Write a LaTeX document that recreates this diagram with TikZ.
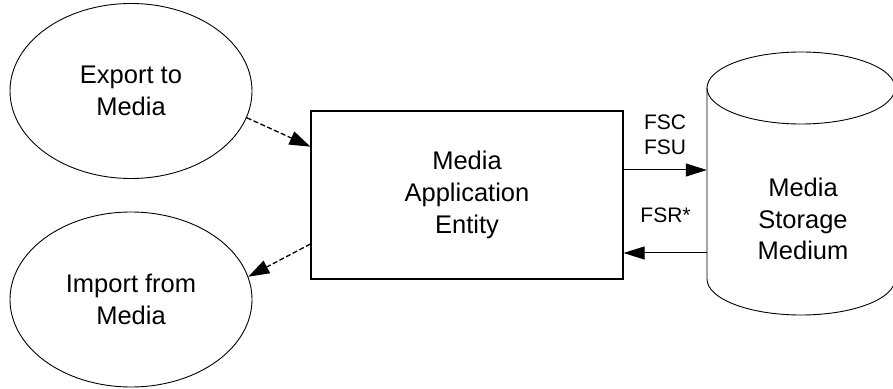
\documentclass[tikz,border=0pt]{standalone}
\usepackage{fontspec}
\setmainfont{Liberation Sans}
\usetikzlibrary{arrows.meta,shapes.geometric}
\begin{document}
\begin{tikzpicture}[x=1pt,y=1pt,
  bigtext/.style={font=\fontsize{25.5}{31.7}\selectfont, align=center},
  smalltext/.style={font=\fontsize{21}{25}\selectfont, align=center, inner sep=0pt},
  oval/.style={ellipse, draw, line width=0.9pt, minimum width=242pt, minimum height=175pt, inner sep=0pt, bigtext},
  box/.style={rectangle, draw, line width=1.1pt, minimum width=312pt, minimum height=168pt, inner sep=0pt, bigtext},
  solidarrow/.style={line width=1pt, -{Triangle[length=21pt,width=13pt]}},
  dasharrow/.style={line width=1.3pt, dash pattern=on 5pt off 2.5pt, -{Triangle[length=21pt,width=14pt]}}
]
\useasboundingbox (0,0) rectangle (893,388);
\node[oval] (exp) at (131,297) {Export to\\Media};
\node[oval] (imp) at (131,88.5) {Import from\\Media};
\node[box] (mae) at (467,193) {Media\\Application\\Entity};
% storage cylinder
\draw[line width=0.9pt] (707,300) -- (707,109) arc[start angle=180,end angle=360,x radius=94pt,y radius=36pt] -- (895,300);
\draw[line width=0.9pt] (801,300) ellipse[x radius=94pt, y radius=36pt];
\node[minimum width=188pt, minimum height=191pt, inner sep=0pt] (store) at (801,204.5) {};
\node[bigtext] (storetext) at (803,169) {Media\\Storage\\Medium};
% connectors
\path ([yshift=48.3pt]mae.west) coordinate (in1);
\path ([yshift=-49pt]mae.west) coordinate (out1);
\draw[dasharrow] (exp.-13) -- (in1);
\draw[dasharrow] (out1) -- (imp.11);
\path ([yshift=25pt]mae.east) coordinate (fscstart);
\path ([yshift=-58pt]mae.east) coordinate (fsrend);
\draw[solidarrow] (fscstart) -- (fscstart -| store.west);
\draw[solidarrow] (fsrend -| store.west) -- (fsrend);
\node[smalltext] (fsc) at (665,253) {FSC\\FSU};
\node[smalltext] (fsr) at (665.5,172.5) {FSR*};
\end{tikzpicture}
\end{document}
